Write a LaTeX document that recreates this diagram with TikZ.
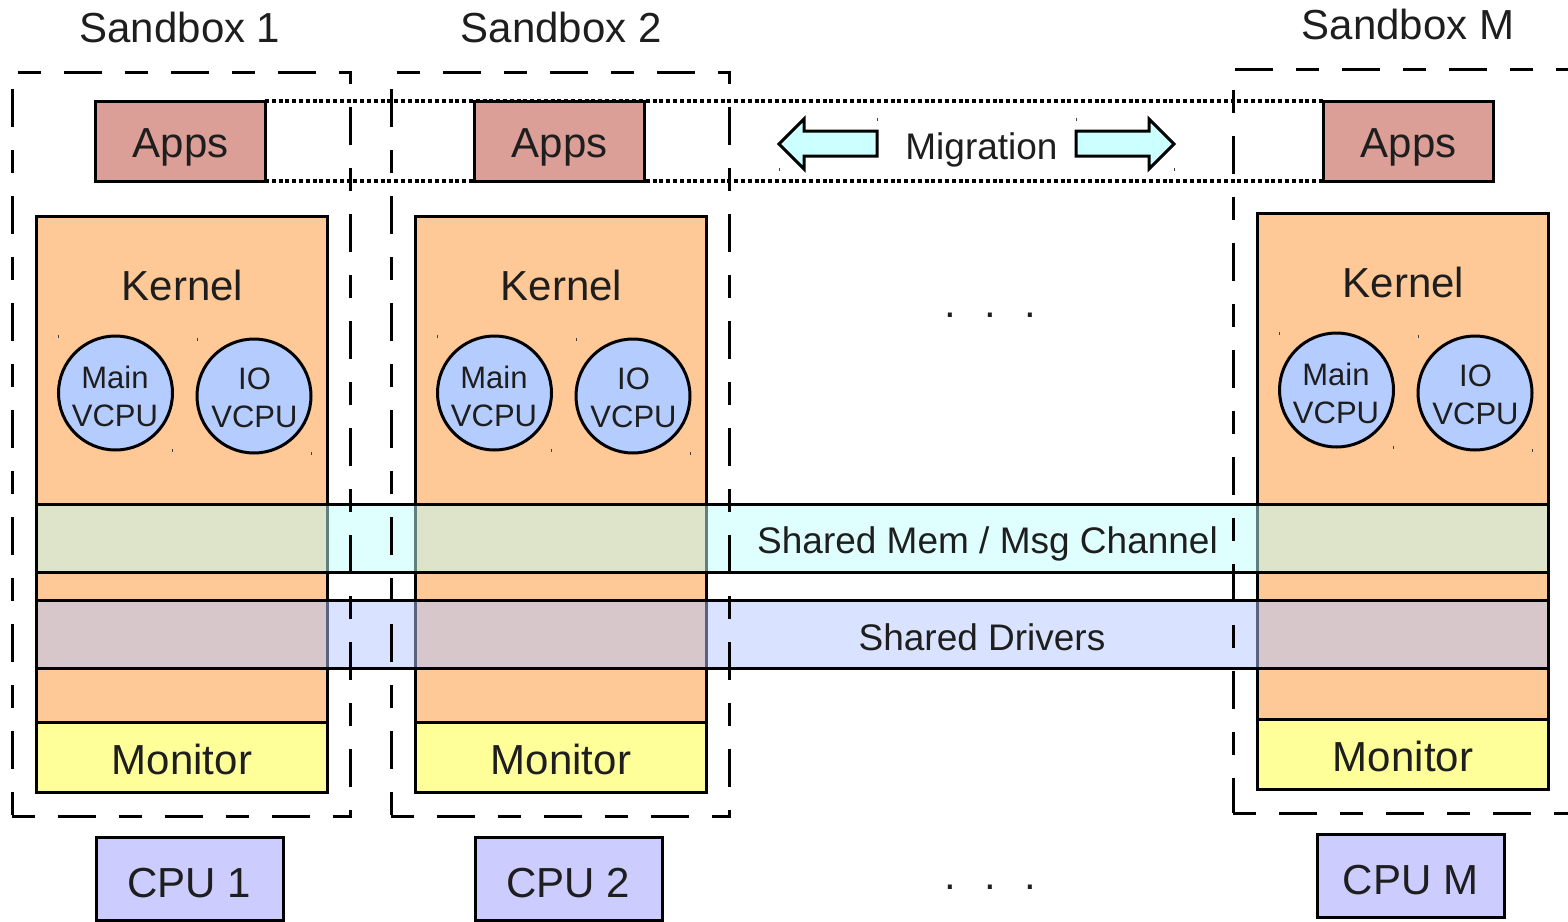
\documentclass[tikz,border=0pt]{standalone}
\usepackage{fontspec}
\setmainfont{Liberation Sans}

\definecolor{appsfill}{RGB}{220,159,151}
\definecolor{kernfill}{RGB}{254,201,150}
\definecolor{monfill}{RGB}{255,255,153}
\definecolor{cpufill}{RGB}{204,204,255}
\definecolor{vcpufill}{RGB}{181,204,255}
\definecolor{migfill}{RGB}{204,255,255}
\definecolor{memfill}{RGB}{192,255,255}
\definecolor{drvfill}{RGB}{179,199,255}
\definecolor{txt}{RGB}{30,30,30}

\tikzset{
  box/.style={rectangle, draw=black, line width=3pt, outer sep=0pt, inner sep=0pt},
  vcpu/.style={circle, draw=black, line width=3pt, fill=vcpufill, minimum size=114pt, outer sep=0pt, inner sep=0pt},
  band/.style={box, fill opacity=0.5, text opacity=1, minimum width=1512pt, minimum height=68pt},
  sandbox/.style={rectangle, draw=black, line width=3pt, dash pattern=on 23pt off 23pt on 38pt off 23pt, outer sep=0pt, inner sep=0pt},
  dotline/.style={draw=black, line width=3.2pt, dash pattern=on 4pt off 2.8pt},
  migarrow/.style={draw=black, line width=3pt, fill=migfill, line join=miter},
  cornermark/.style={draw=black!75, line width=0.9pt},
  big/.style={font=\fontsize{42}{48}\selectfont, text=txt, inner sep=0pt, anchor=base},
  mid/.style={font=\fontsize{37}{44}\selectfont, text=txt, inner sep=0pt, anchor=base},
  small/.style={font=\fontsize{31}{38}\selectfont, text=txt, inner sep=0pt, align=center},
}

\begin{document}
\begin{tikzpicture}[x=1pt, y=-1pt]
\useasboundingbox (0,0) rectangle (1568,921);

% dotted outline joining the application boxes
\coordinate (dotstartN) at (265,101);
\coordinate (dotstartS) at (265,181);
\coordinate (dotendN) at (1323,101);
\coordinate (dotendS) at (1323,181);
\draw[dotline] (dotstartN) -- (dotendN);
\draw[dotline] (dotstartS) -- (dotendS);

% one column per sandbox: apps, kernel with its VCPUs, monitor, CPU
\foreach \i/\dx/\dy/\adx in {1/0/0/0, 2/379/0/379, M/1221/-3/1228} {
  \node[box, fill=appsfill, minimum width=170pt, minimum height=80pt] (apps\i) at (180+\adx,141) {};
  \node[big] (appst\i) at (180.5+\adx,157) {Apps};

  \node[box, fill=kernfill, minimum width=291pt, minimum height=506pt] (kern\i) at (181.5+\dx,469+\dy) {};
  \node[big] (kernt\i) at (182.5+\dx,300+\dy) {Kernel};

  \node[vcpu] (main\i) at (115.5+\dx,393+\dy) {};
  \node[small] (maint\i) at (115+\dx,396+\dy) {Main\\VCPU};
  \node[vcpu] (io\i) at (254+\dx,396+\dy) {};
  \node[small] (iot\i) at (254.5+\dx,397.5+\dy) {IO\\VCPU};
  \foreach \cx/\cy in {58.5/336, 172.5/450, 197/339, 311/453}
    \draw[cornermark] (\cx+\dx,\cy+\dy-1.5) -- (\cx+\dx,\cy+\dy+1.5);

  \node[box, fill=monfill, minimum width=291pt, minimum height=70pt] (mon\i) at (181.5+\dx,757+\dy) {};
  \node[big] (mont\i) at (182+\dx,774+\dy) {Monitor};

  \node[box, fill=cpufill, minimum width=187pt, minimum height=83pt] (cpu\i) at (189.5+\dx,878.5+\dy) {};
  \node[big] (cput\i) at (189.5+\dx,897+\dy) {CPU \i};
}

% shared layers spanning all kernels
\node[band, fill=memfill] (mem) at (792,538) {};
\node[mid] (memt) at (987.5,553) {Shared Mem / Msg Channel};
\node[band, fill=drvfill] (drv) at (792,634) {};
\node[mid] (drvt) at (982,650) {Shared Drivers};

% migration arrows
\draw[migarrow] (779,144) -- (804,119) -- (804,131) -- (877,131) -- (877,156) -- (804,156) -- (804,169) -- cycle;
\draw[migarrow] (1174,144) -- (1149,119) -- (1149,131) -- (1076,131) -- (1076,156) -- (1149,156) -- (1149,169) -- cycle;
\foreach \cx/\cy in {877/119, 779/169, 1076/119, 1174/169}
  \draw[cornermark] (\cx,\cy-1.5) -- (\cx,\cy+1.5);
\node[mid] (migt) at (981.5,159) {Migration};

% ellipses for the sandboxes and CPUs in between
\node[big] (dotsk) at (990.5,317) {.\hspace{28.3pt}.\hspace{28.3pt}.};
\node[big] (dotsc) at (990.5,889) {.\hspace{28.3pt}.\hspace{28.3pt}.};

% sandbox outlines and titles
\foreach \i/\dx/\dy/\w in {1/0/0/338, 2/379/0/338, M/1221/-3/420} {
  \node[sandbox, minimum width=\w pt, minimum height=744pt] (sb\i) at (12+\dx+\w/2,444+\dy) {};
  \node[big] (sbt\i) at (180+\dx+\dx/1221*7,42+\dy) {Sandbox \i};
}
\end{tikzpicture}
\end{document}
